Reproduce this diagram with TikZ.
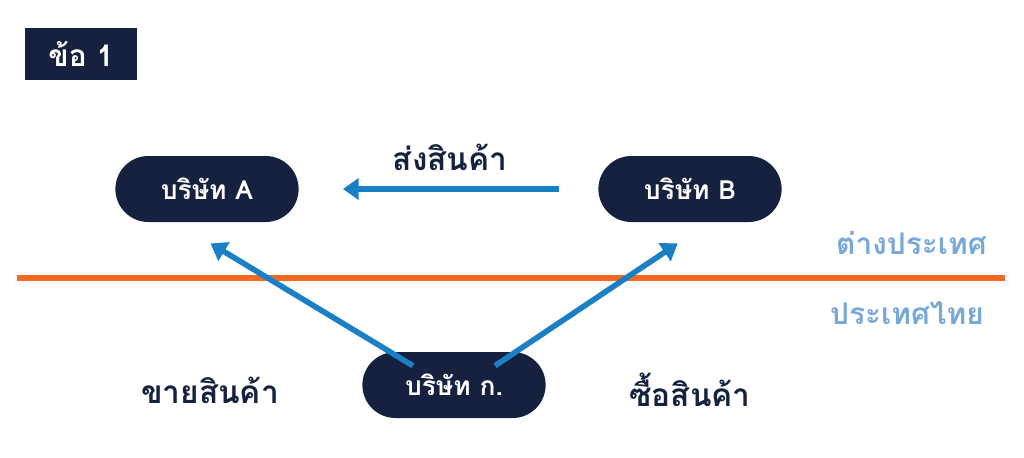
\documentclass[tikz,border=0pt]{standalone}
\usepackage{fontspec}
\newfontfamily\thaifont[Script=Thai]{Loma}
\usetikzlibrary{arrows.meta,positioning,shapes}
\definecolor{navy}{HTML}{15213F}
\definecolor{flowblue}{HTML}{1B7FC6}
\definecolor{skyblue}{HTML}{77A8D8}
\definecolor{borderorange}{HTML}{F26A21}
\tikzset{
    company/.style={rounded rectangle, fill=navy, text=white, minimum width=3.9cm, minimum height=1.32cm, font=\thaifont\bfseries\fontsize{15}{18}\selectfont},
    flow/.style={flowblue, line width=3.2pt, -{Triangle[length=9pt,width=12pt]}},
    tag/.style={font=\thaifont\bfseries\fontsize{18}{22}\selectfont, text=navy},
    side/.style={font=\thaifont\bfseries\fontsize{17}{21}\selectfont, text=skyblue}
}
\begin{document}
\begin{tikzpicture}[x=0.02cm,y=-0.02cm]
    \useasboundingbox (0,0) rectangle (1024,457);
    \node[fill=navy, text=white, minimum width=2.24cm, minimum height=1.04cm, font=\thaifont\bfseries\fontsize{17}{20}\selectfont] (title) at (81,54) {ข้อ 1};
    \node[company] (boxA) at (207,189) {บริษัท A};
    \node[company] (boxB) at (690,189) {บริษัท B};
    \node[company] (boxK) at (454,385) {บริษัท ก.};
    % border line
    \draw[borderorange, line width=3pt] (17,278) -- (1005,278);
    \node[side, anchor=east] (abroad) at (993,243) {ต่างประเทศ};
    \node[side, anchor=east] (home) at (990,313) {ประเทศไทย};
    % flows
    \draw[flow] ([xshift=-22pt]boxB.west) -- ([xshift=25pt]boxA.east);
    \draw[flow] ([xshift=10pt,yshift=-8pt]boxK.north west) -- ([xshift=2pt,yshift=-12pt]boxA.south);
    \draw[flow] ([xshift=-10pt,yshift=-8pt]boxK.north east) -- ([xshift=-7pt,yshift=-12pt]boxB.south);
    \node[tag] (ship) at (450,157) {ส่งสินค้า};
    \node[tag] (sell) at (210,390) {ขายสินค้า};
    \node[tag] (buy) at (690,390) {ซื้อสินค้า};
\end{tikzpicture}
\end{document}
